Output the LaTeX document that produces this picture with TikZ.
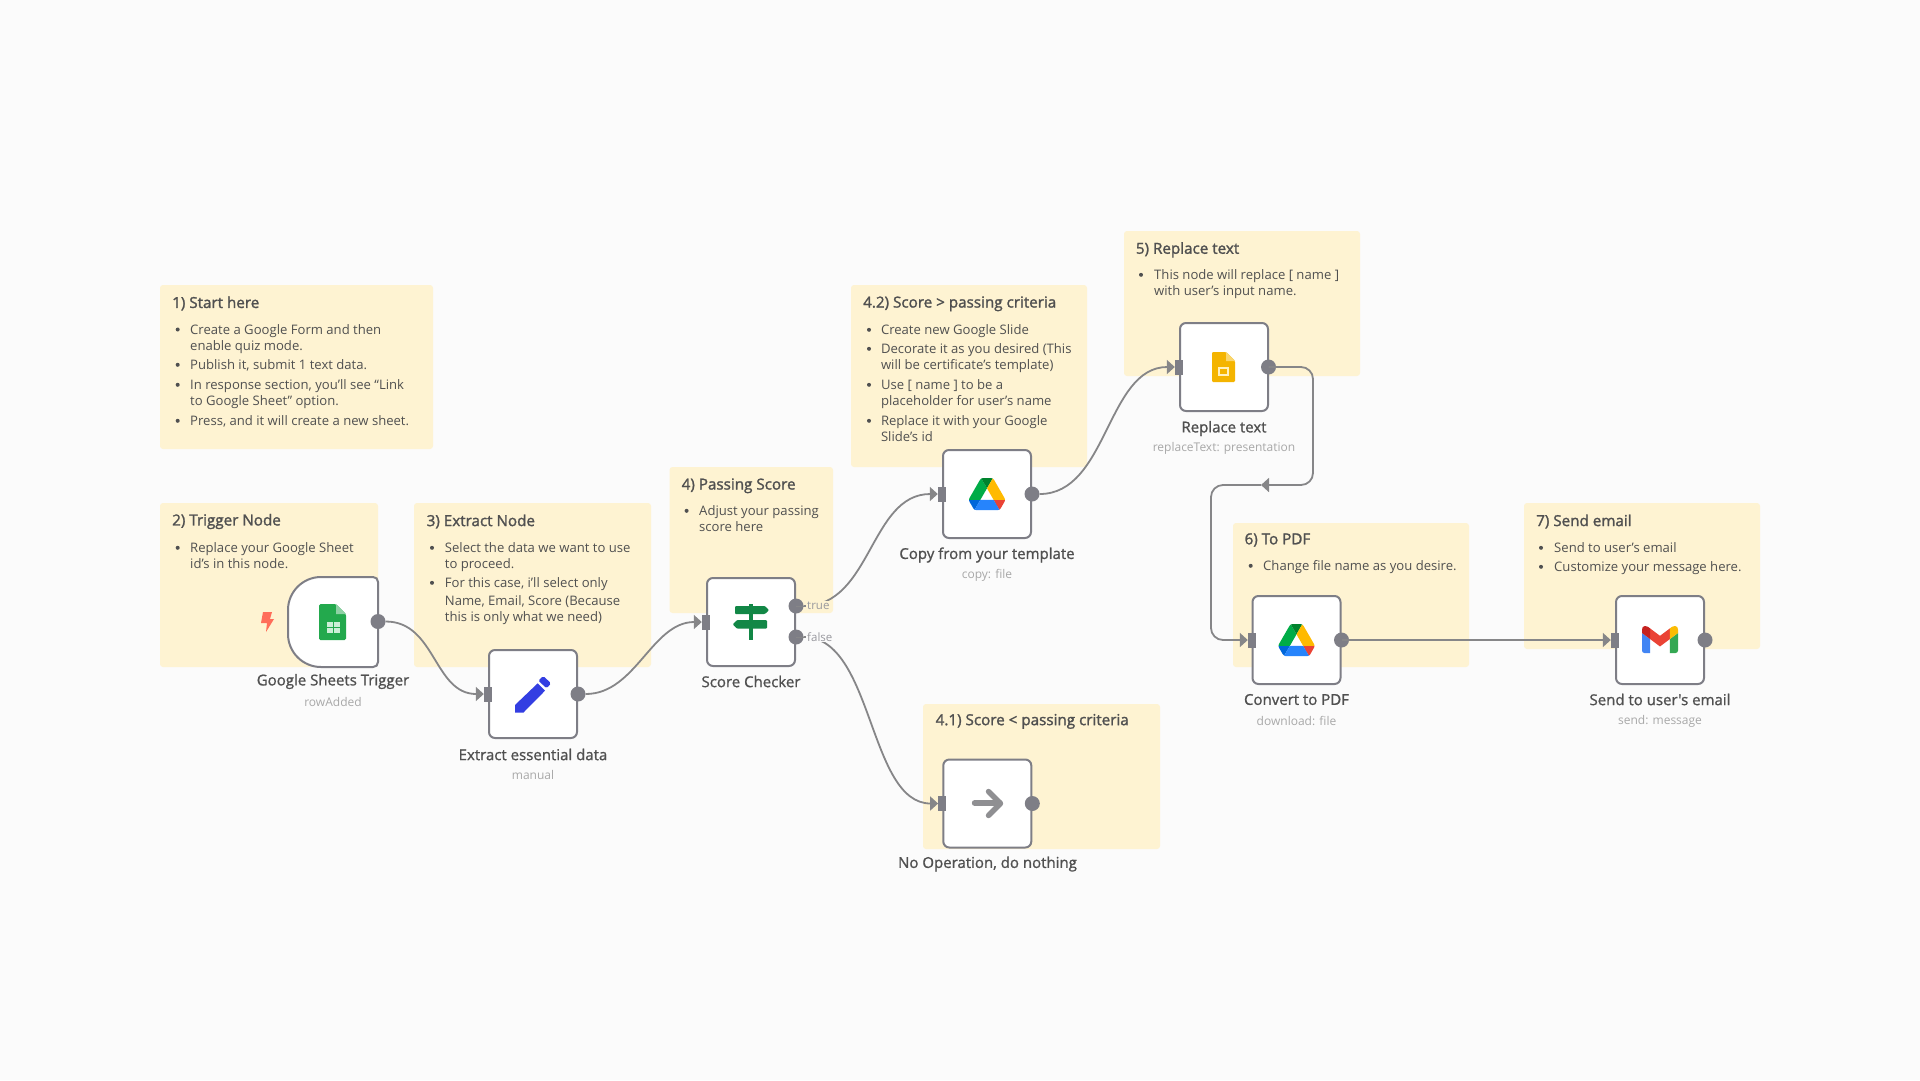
\documentclass[tikz,border=0pt]{standalone}
\usepackage{fontspec}
\usetikzlibrary{arrows.meta}
\setmainfont{Open Sans}
\newfontfamily\medfont[FakeBold=1.1]{Open Sans}
\newfontfamily\headfont[FakeBold=1.6]{Open Sans}
\definecolor{bgc}{HTML}{FBFBFB}
\definecolor{stickyc}{HTML}{FEF3D2}
\definecolor{edgec}{HTML}{868688}
\definecolor{portc}{HTML}{7E7E86}
\definecolor{txtc}{HTML}{505050}
\definecolor{subc}{HTML}{A8A8A8}
\definecolor{branchc}{HTML}{98989E}
\tikzset{
  x=1pt,y=-1pt,
  sticky/.style={fill=stickyc,draw=none,rounded corners=3pt,inner sep=0pt},
  stickyhead/.style={anchor=west,inner sep=0pt,text=txtc,font=\headfont\fontsize{15.2}{17}\selectfont},
  stickybody/.style={anchor=north west,inner sep=0pt,align=left,text=txtc,font=\fontsize{13.1}{16}\selectfont},
  bulletdot/.style={circle,fill=txtc,inner sep=0pt,minimum size=4pt},
  wfnode/.style={rectangle,draw=portc,line width=2pt,fill=white,rounded corners=6pt,minimum width=88pt,minimum height=88pt,inner sep=0pt},
  inport/.style={rectangle,fill=portc,minimum width=8pt,minimum height=15pt,inner sep=0pt},
  outport/.style={circle,fill=portc,minimum size=15pt,inner sep=0pt},
  wire/.style={draw=edgec,line width=1.8pt,-{Triangle[length=8pt,width=14pt]}},
  plainwire/.style={draw=edgec,line width=1.8pt},
  nodetitle/.style={inner sep=0pt,text=txtc,font=\medfont\fontsize{15}{17}\selectfont},
  nodesub/.style={inner sep=0pt,text=subc,font=\fontsize{12}{14}\selectfont},
  branchlabel/.style={inner sep=1pt,anchor=west,text=branchc,font=\fontsize{11.5}{13}\selectfont},
}
% name, bullet x, text x, first baseline, text
\newcommand{\stickyitem}[5]{%
  \node[bulletdot] (#1b) at (#2,{#4-5.2}) {};
  \node[stickybody] (#1) at (#3,{#4-11.9}) {\strut #5};}
\newcommand{\drivelogo}[2]{%
  \begin{scope}[shift={(#1,#2)},x=0.4124pt,y=-0.4124pt]
    \fill[color={rgb,255:red,0;green,102;blue,218}] (6.6,66.85)--(10.45,73.5)--(13.75,76.8)--(27.5,53)--(0,53)--(1.2,57.5)--cycle;
    \fill[color={rgb,255:red,0;green,172;blue,71}] (43.65,25)--(29.9,1.2)--(26.6,4.5)--(1.2,48.5)--(0,53)--(27.5,53)--cycle;
    \fill[color={rgb,255:red,234;green,67;blue,53}] (73.55,76.8)--(76.85,73.5)--(86.1,57.5)--(87.3,53)--(59.8,53)--(65.65,64.5)--cycle;
    \fill[color={rgb,255:red,0;green,131;blue,45}] (43.65,25)--(57.4,1.2)--(52.9,0)--(34.4,0)--(29.9,1.2)--cycle;
    \fill[color={rgb,255:red,38;green,132;blue,252}] (59.8,53)--(27.5,53)--(13.75,76.8)--(18.25,78)--(69.05,78)--(73.55,76.8)--cycle;
    \fill[color={rgb,255:red,255;green,186;blue,0}] (73.4,26.5)--(60.7,4.5)--(57.4,1.2)--(43.65,25)--(59.8,53)--(87.25,53)--(86.05,48.5)--cycle;
  \end{scope}}
\begin{document}
\begin{tikzpicture}
\useasboundingbox (0,0) rectangle (1920,1080);
\fill[bgc] (0,0) rectangle (1920,1080);

% sticky notes
\fill[sticky] (160,285) rectangle (433,449);
\fill[sticky] (160,503) rectangle (378,667);
\fill[sticky] (414,503) rectangle (651,667);
\fill[sticky] (669.5,467) rectangle (833,613);
\fill[sticky] (851,285) rectangle (1087,467);
\fill[sticky] (923,704) rectangle (1160,849);
\fill[sticky] (1124,231) rectangle (1360,376);
\fill[sticky] (1233,523) rectangle (1469,667);
\fill[sticky] (1524,503) rectangle (1760,649);

\node[stickyhead] (h1) at (172,303.4) {1) Start here};
\stickyitem{a1}{177.7}{190}{334.7}{Create a Google Form and then\\enable quiz mode.}
\stickyitem{a2}{177.7}{190}{370}{Publish it, submit 1 text data.}
\stickyitem{a3}{177.7}{190}{390}{In response section, you’ll see “Link\\to Google Sheet” option.}
\stickyitem{a4}{177.7}{190}{426}{Press, and it will create a new sheet.}

\node[stickyhead] (h2) at (172,521.5) {2) Trigger Node};
\stickyitem{b1}{177.7}{190}{553}{Replace your Google Sheet\\id’s in this node.}

\node[stickyhead] (h3) at (426.5,521.5) {3) Extract Node};
\stickyitem{c1}{432}{444.7}{553}{Select the data we want to use\\to proceed.}
\stickyitem{c2}{432}{444.7}{588}{For this case, i’ll select only\\[2pt]Name, Email, Score (Because\\this is only what we need)}

\node[stickyhead] (h4) at (681.5,485.8) {4) Passing Score};
\stickyitem{d1}{686.6}{699}{516}{Adjust your passing\\score here}

\node[stickyhead] (h42) at (863,303.8) {4.2) Score > passing criteria};
\stickyitem{e1}{869}{880.8}{335}{Create new Google Slide}
\stickyitem{e2}{869}{880.8}{354}{Decorate it as you desired (This\\will be certificate’s template)}
\stickyitem{e3}{869}{880.8}{390}{Use [ name ] to be a\\placeholder for user’s name}
\stickyitem{e4}{869}{880.8}{426}{Replace it with your Google\\Slide’s id}

\node[stickyhead] (h41) at (935.5,721.4) {4.1) Score < passing criteria};

\node[stickyhead] (h5) at (1135.7,249.8) {5) Replace text};
\stickyitem{f1}{1141}{1154}{280}{This node will replace [ name ]\\with user’s input name.}

\node[stickyhead] (h6) at (1244.4,540) {6) To PDF};
\stickyitem{g1}{1250.7}{1263}{571}{Change file name as you desire.}

\node[stickyhead] (h7) at (1536,521.5) {7) Send email};
\stickyitem{k1}{1541}{1554}{553}{Send to user’s email}
\stickyitem{k2}{1541}{1554}{572}{Customize your message here.}

% workflow nodes
\node[inner sep=0pt,minimum width=90pt,minimum height=90pt] (trigger) at (333,622) {};
\draw[draw=portc,line width=2pt,fill=white] (288,610) .. controls (288,591.8) and (302.8,577) .. (321,577) -- (373,577) .. controls (376,577) and (378,579) .. (378,582) -- (378,662) .. controls (378,665) and (376,667) .. (373,667) -- (321,667) .. controls (302.8,667) and (288,652.2) .. (288,634) -- cycle;
\node[wfnode] (extract) at (533,694) {};
\node[wfnode] (score) at (751,622) {};
\node[wfnode] (copy) at (987,494) {};
\node[wfnode] (replace) at (1224,367) {};
\node[wfnode] (noop) at (987.3,803.5) {};
\node[wfnode] (convert) at (1296.5,640) {};
\node[wfnode] (send) at (1660,640) {};

% ports
\node[outport] (triggerout) at (378,621.5) {};
\node[inport] (extractin) at (488,694) {};
\node[outport] (extractout) at (578,694) {};
\node[inport] (scorein) at (706,622) {};
\node[outport] (scoretrue) at (796,606) {};
\node[outport] (scorefalse) at (796,637) {};
\node[inport] (copyin) at (942,494) {};
\node[outport] (copyout) at (1032,494) {};
\node[inport] (replacein) at (1179,367) {};
\node[outport] (replaceout) at (1268.5,367) {};
\node[inport] (noopin) at (942.3,803.5) {};
\node[outport] (noopout) at (1032.3,803.5) {};
\node[inport] (convertin) at (1252,640) {};
\node[outport] (convertout) at (1341.5,640) {};
\node[inport] (sendin) at (1615,640) {};
\node[outport] (sendout) at (1705,640) {};

% connectors
\draw[wire] (triggerout.east) .. controls +(50,0) and +(-50,0) .. (extractin.west);
\draw[wire] (extractout.east) .. controls +(50,0) and +(-50,0) .. (scorein.west);
\draw[wire] (scoretrue.east) .. controls +(68,0) and +(-68,0) .. (copyin.west);
\draw[wire] (scorefalse.east) .. controls +(70,0) and +(-70,0) .. (noopin.west);
\draw[wire] (copyout.east) .. controls +(68,0) and +(-68,0) .. (replacein.west);
\coordinate (loopmid) at (1261,485);
\draw[wire,rounded corners=12pt] (replaceout.center) -- (1313,367) -- (1313,485) -- (loopmid);
\draw[wire,rounded corners=12pt] (loopmid) -- (1211,485) -- (1211,640) -- (convertin.west);
\draw[wire] (convertout.center) -- (sendin.west);

% branch labels
\node[branchlabel,fill=stickyc] (truelabel) at (806,606) {true};
\node[branchlabel,fill=bgc] (falselabel) at (806,637) {false};
\draw[plainwire,line width=1pt] (scoretrue.center) -- (truelabel.west);
\draw[plainwire,line width=1pt] (scorefalse.center) -- (falselabel.west);

% titles
\node[nodetitle] (t1) at (333,681.5) {Google Sheets Trigger};
\node[nodesub] (s1) at (333,702) {rowAdded};
\node[nodetitle] (t2) at (533,754.5) {Extract essential data};
\node[nodesub] (s2) at (533,775) {manual};
\node[nodetitle] (t3) at (751,681.5) {Score Checker};
\node[nodetitle] (t4) at (987,555) {Copy from your template};
\node[nodesub] (s4) at (987,575) {copy: file};
\node[nodetitle] (t5) at (1224,428.5) {Replace text};
\node[nodesub] (s5) at (1224,448) {replaceText: presentation};
\node[nodetitle] (t6) at (987.5,864) {No Operation, do nothing};
\node[nodetitle] (t7) at (1296.5,699.5) {Convert to PDF};
\node[nodesub] (s7) at (1296.5,721) {download: file};
\node[nodetitle] (t8) at (1660,699.5) {Send to user's email};
\node[nodesub] (s8) at (1660,721) {send: message};

% bolt
\fill[color={rgb,255:red,255;green,109;blue,90}] (263,612) -- (272,612) -- (270,619) -- (274,619) -- (266,632) -- (267,623) -- (261,623) -- cycle;

% sheets icon
\fill[color={rgb,255:red,35;green,169;blue,77},rounded corners=1.5pt] (319,604) -- (336,604) -- (346,614) -- (346,640) -- (319,640) -- cycle;
\fill[color={rgb,255:red,142;green,209;blue,164}] (336,604) -- (346,614) -- (336,614) -- cycle;
\fill[color={rgb,255:red,205;green,238;blue,215}] (327,622) rectangle (339.5,633);
\draw[color={rgb,255:red,35;green,169;blue,77},line width=0.9pt] (333.2,622) -- (333.2,633) (327,627.5) -- (339.5,627.5);

% pencil icon
\fill[color={rgb,255:red,51;green,62;blue,226}] (515,712.7) -- (515,705) -- (537.7,683.3) -- (545,690.7) -- (523.3,712.7) -- cycle;
\fill[color={rgb,255:red,51;green,62;blue,226},rounded corners=1.5pt] (538.3,680.7) -- (543.3,676) -- (551,683.3) -- (546.7,688.3) -- cycle;

% signpost icon
\begin{scope}[color={rgb,255:red,18;green,135;blue,70}]
\fill (748.7,604) rectangle (753,640);
\fill[rounded corners=1pt] (735,606) -- (765,606) -- (769,610) -- (765,614) -- (735,614) -- cycle;
\fill[rounded corners=1pt] (737,620) -- (767,620) -- (767,628.7) -- (737,628.7) -- (732.7,624.3) -- cycle;
\end{scope}

% drive icons
\drivelogo{969}{478}
\drivelogo{1278.5}{624}

% slides icon
\fill[color={rgb,255:red,244;green,180;blue,0},rounded corners=1.2pt] (1212,352) -- (1226,352) -- (1235,361) -- (1235,382) -- (1212,382) -- cycle;
\fill[color={rgb,255:red,250;green,214;blue,110}] (1226,352) -- (1235,361) -- (1226,361) -- cycle;
\fill[color={rgb,255:red,255;green,240;blue,190}] (1218,367) rectangle (1229,376);
\fill[color={rgb,255:red,244;green,180;blue,0}] (1220.2,369.2) rectangle (1226.8,373.8);

% noop arrow
\draw[draw={rgb,255:red,143;green,143;blue,146},line width=5.4pt,line cap=round] (974.5,803) -- (1000,803);
\draw[draw={rgb,255:red,143;green,143;blue,146},line width=5.4pt,line cap=round,line join=round] (988.5,791.5) -- (1000.5,803.5) -- (988.5,815.5);

% gmail icon
\begin{scope}[shift={(1642,626)},x=0.1406pt,y=-0.1406pt]
\fill[color={rgb,255:red,66;green,133;blue,244}] (58.18,192) -- (58.18,93.14) -- (0,49.5) -- (0,174.6) -- (5,187) -- (17.5,192) -- cycle;
\fill[color={rgb,255:red,52;green,168;blue,83}] (197.8,192) -- (238.5,192) -- (251,187) -- (256,174.6) -- (256,49.5) -- (197.8,93.14) -- cycle;
\fill[color={rgb,255:red,234;green,67;blue,53}] (58.18,93.14) -- (58.18,17.5) -- (128,69.87) -- (197.8,17.5) -- (197.8,93.14) -- (128,145.5) -- cycle;
\fill[color={rgb,255:red,251;green,188;blue,4}] (197.8,17.5) -- (197.8,93.14) -- (256,49.5) -- (256,26.2) -- (251,8) -- (236,0) -- (214.1,5.29) -- cycle;
\fill[color={rgb,255:red,197;green,34;blue,31}] (0,49.5) -- (58.18,93.14) -- (58.18,17.5) -- (41.89,5.29) -- (20,0) -- (5,8) -- (0,26.2) -- cycle;
\end{scope}
\end{tikzpicture}
\end{document}
